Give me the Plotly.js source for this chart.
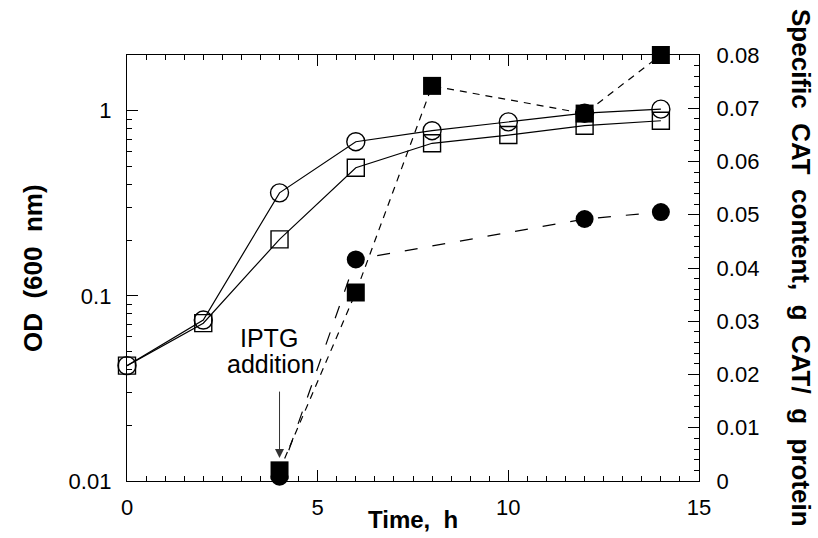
<!DOCTYPE html>
<html>
<head>
<meta charset="utf-8">
<script src="https://cdn.plot.ly/plotly-3.0.1.min.js"></script>
<style>html,body{margin:0;padding:0;background:#fff;}#chart{width:818px;height:538px;}</style>
</head>
<body>
<div id="chart"></div>
<script>
// ---- data ----
const time = [0, 2, 4, 6, 8, 10, 12, 14];
const odOpenCircle = [0.042, 0.074, 0.36, 0.68, 0.78, 0.87, 0.97, 1.02];
const odOpenSquare = [0.042, 0.0712, 0.202, 0.492, 0.667, 0.739, 0.83, 0.883];
const catSquareTime = [4, 6, 8, 12, 14];
const catSquare = [0.002, 0.0354, 0.0742, 0.069, 0.080];
const catCircleTime = [4, 6, 12, 14];
const catCircle = [0.0008, 0.0416, 0.0492, 0.0505];
const xTicks = [0, 5, 10, 15];
const odTicks = [0.01, 0.1, 1];
const odTickText = ['0.01', '0.1', '1'];
const catTicks = [0, 0.01, 0.02, 0.03, 0.04, 0.05, 0.06, 0.07, 0.08];
const catTickText = ['0', '0.01', '0.02', '0.03', '0.04', '0.05', '0.06', '0.07', '0.08'];

const FONT = 'Liberation Sans, Arial, Helvetica, sans-serif';
const S = '\u00a0';

const traces = [
  {x: time, y: odOpenSquare, yaxis: 'y', type: 'scatter', mode: 'lines+markers', cliponaxis: false,
   line: {color: '#000', width: 1.2},
   marker: {symbol: 'square-open', size: 17, color: '#000', line: {width: 1.4, color: '#000'}}},
  {x: time, y: odOpenCircle, yaxis: 'y', type: 'scatter', mode: 'lines+markers', cliponaxis: false,
   line: {color: '#000', width: 1.2},
   marker: {symbol: 'circle-open', size: 18, color: '#000', line: {width: 1.4, color: '#000'}}},
  {x: catCircleTime, y: catCircle, yaxis: 'y2', type: 'scatter', mode: 'lines+markers', cliponaxis: false,
   line: {color: '#000', width: 1.2, dash: '13px,15px'},
   marker: {symbol: 'circle', size: 18, color: '#000'}},
  {x: catSquareTime, y: catSquare, yaxis: 'y2', type: 'scatter', mode: 'lines+markers', cliponaxis: false,
   line: {color: '#000', width: 1.2, dash: '7px,6px'},
   marker: {symbol: 'square', size: 18, color: '#000'}}
];

const layout = {
  width: 818, height: 538,
  margin: {l: 127, r: 119, t: 55, b: 57},
  paper_bgcolor: '#fff', plot_bgcolor: '#fff',
  showlegend: false,
  font: {family: FONT, size: 22, color: '#000'},
  xaxis: {
    range: [0, 15], tickvals: xTicks, ticktext: xTicks.map(String),
    ticks: 'inside', ticklen: 11, tickwidth: 1, tickcolor: '#000', ticklabelstandoff: 6,
    minor: {dtick: 0.5, ticks: 'inside', ticklen: 5, tickwidth: 1, tickcolor: '#000'},
    showline: true, linecolor: '#000', linewidth: 1.2, mirror: 'ticks',
    showgrid: false, zeroline: false,
    tickfont: {family: FONT, size: 22}
  },
  yaxis: {
    type: 'log', range: [-2, 0.301],
    tickvals: odTicks, ticktext: odTickText,
    ticks: 'inside', ticklen: 11, tickwidth: 1, tickcolor: '#000', ticklabelstandoff: 10,
    minor: {tickvals: [0.02,0.03,0.04,0.05,0.06,0.07,0.08,0.09,0.2,0.3,0.4,0.5,0.6,0.7,0.8,0.9,2],
            ticks: 'inside', ticklen: 5, tickwidth: 1, tickcolor: '#000'},
    showline: true, linecolor: '#000', linewidth: 1.2,
    showgrid: false, zeroline: false,
    tickfont: {family: FONT, size: 22}
  },
  yaxis2: {
    overlaying: 'y', side: 'right', range: [0, 0.08],
    tickvals: catTicks, ticktext: catTickText,
    ticks: 'inside', ticklen: 11, tickwidth: 1, tickcolor: '#000', ticklabelstandoff: 12,
    minor: {dtick: 0.002, ticks: 'inside', ticklen: 5, tickwidth: 1, tickcolor: '#000'},
    showline: true, linecolor: '#000', linewidth: 1.2,
    showgrid: false, zeroline: false,
    tickfont: {family: FONT, size: 22}
  },
  annotations: [
    {xref: 'paper', yref: 'paper', x: (413 - 127) / 572, y: (538 - 519 - 57) / 426,
     text: 'Time,' + S + S + 'h', showarrow: false, xanchor: 'center', yanchor: 'middle',
     font: {family: FONT, size: 24, weight: 'bold'}},
    {xref: 'paper', yref: 'paper', x: (33 - 127) / 572, y: 0.5, textangle: -90,
     text: 'OD' + S + S + '(600' + S + S + 'nm)', showarrow: false, xanchor: 'center', yanchor: 'middle',
     font: {family: FONT, size: 26, weight: 'bold'}},
    {xref: 'paper', yref: 'paper', x: (801 - 127) / 572, y: 0.5, textangle: 90,
     text: 'Specific' + S + S + 'CAT' + S + S + 'content,' + S + S + 'g' + S + S + 'CAT/' + S + S + 'g' + S + S + 'protein',
     showarrow: false, xanchor: 'center', yanchor: 'middle',
     font: {family: FONT, size: 26, weight: 'bold'}},
    {x: 3.72, y: (481 - 338) / 5325, xref: 'x', yref: 'y2', text: 'IPTG', showarrow: false,
     font: {family: FONT, size: 25, color: '#000'}},
    {x: 3.78, y: (481 - 364) / 5325, xref: 'x', yref: 'y2', text: 'addition', showarrow: false,
     font: {family: FONT, size: 25, color: '#000'}},
    {x: 4, y: 0.0043, xref: 'x', yref: 'y2', text: '', showarrow: true,
     ax: 0, ay: -68, arrowhead: 2, arrowsize: 1.8, arrowwidth: 1, arrowcolor: '#333', standoff: 0}
  ]
};

Plotly.newPlot('chart', traces, layout, {displayModeBar: false, staticPlot: true});
</script>
</body>
</html>
